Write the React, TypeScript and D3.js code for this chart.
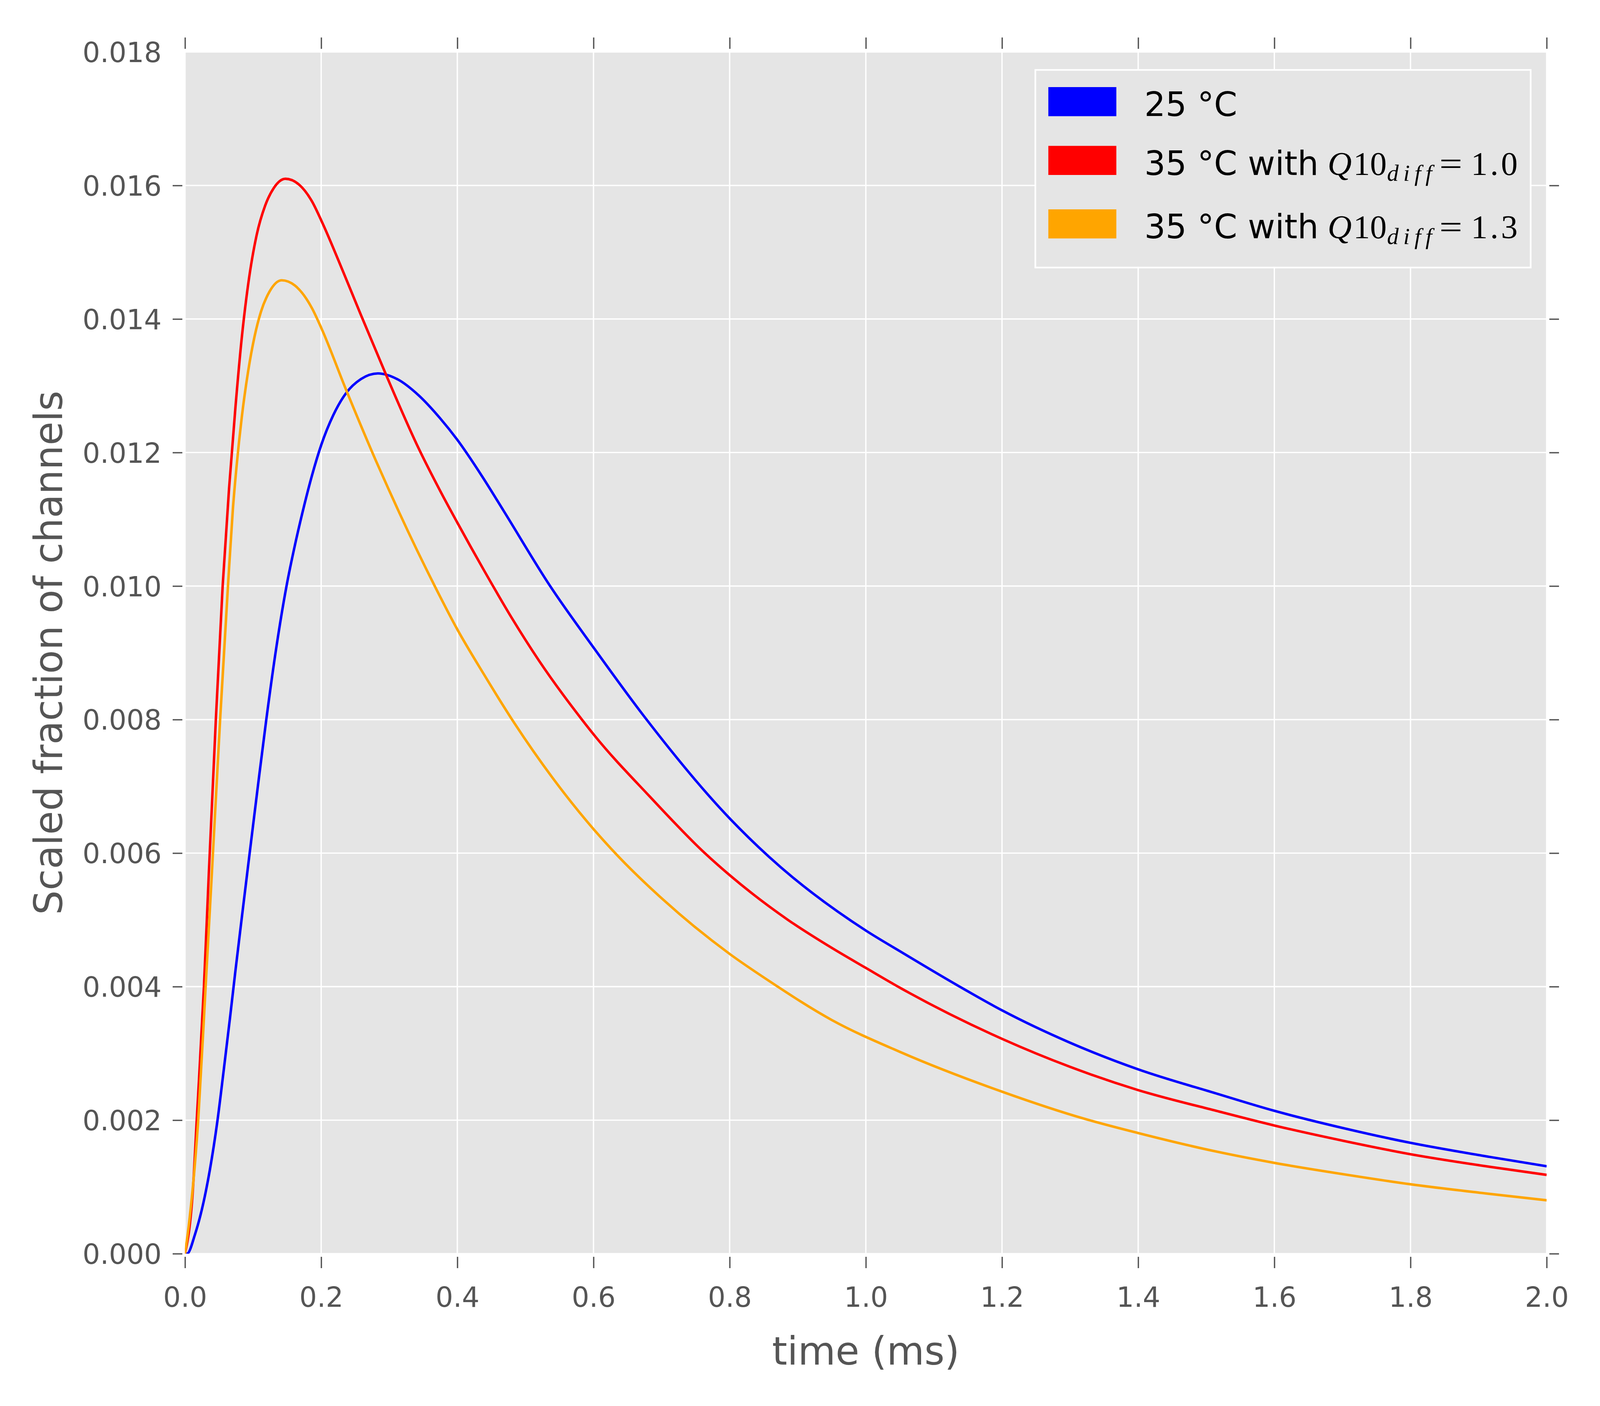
import { useEffect, useRef } from 'react';
import * as d3 from 'd3';

// axis ticks
const xTicks = [0, 0.2, 0.4, 0.6, 0.8, 1.0, 1.2, 1.4, 1.6, 1.8, 2.0];
const yTicks = [0, 0.002, 0.004, 0.006, 0.008, 0.01, 0.012, 0.014, 0.016, 0.018];

// 25 °C
const time25 = [0, 0.003, 0.0147, 0.0272, 0.0366, 0.0475, 0.0569, 0.0663, 0.0741, 0.0834, 0.0928, 0.1069, 0.1194, 0.1334, 0.1491, 0.1616, 0.1725, 0.1866, 0.2, 0.2178, 0.2366, 0.2584, 0.2834, 0.3116, 0.3428, 0.3741, 0.4, 0.4366, 0.4678, 0.5363, 0.6, 0.6742, 0.8, 0.8572, 1.0, 1.0507, 1.1378, 1.2, 1.2995, 1.4, 1.5146, 1.6, 1.7016, 1.8, 1.904, 2.0];
const frac25 = [0, 0, 0.00029, 0.00077, 0.00126, 0.00198, 0.00275, 0.00355, 0.00424, 0.00503, 0.00582, 0.00699, 0.008, 0.00903, 0.01, 0.01062, 0.0111, 0.01166, 0.01211, 0.01256, 0.01289, 0.0131, 0.013185, 0.0131, 0.01286, 0.01252, 0.01219, 0.01164, 0.01113, 0.01, 0.00908, 0.00805, 0.00652, 0.00595, 0.00484, 0.004526, 0.004, 0.003645, 0.003162, 0.002761, 0.0024, 0.00214, 0.00188, 0.00166, 0.00147, 0.00131];

// 35 °C, Q10diff = 1.0
const time35a = [0, 0.0116, 0.0172, 0.0278, 0.035, 0.0453, 0.0553, 0.0647, 0.0741, 0.0834, 0.0928, 0.1053, 0.1178, 0.1303, 0.1475, 0.1678, 0.1866, 0.2, 0.2334, 0.2584, 0.2959, 0.3428, 0.3756, 0.4, 0.4389, 0.4795, 0.5201, 0.583, 0.6, 0.6824, 0.7635, 0.8, 0.8856, 0.95, 1.0, 1.0507, 1.2, 1.2995, 1.4, 1.5146, 1.6, 1.7016, 1.8, 1.904, 2.0];
const frac35a = [0, 0.00096, 0.002, 0.004, 0.0057, 0.008, 0.01, 0.01146, 0.01268, 0.01372, 0.01452, 0.01526, 0.0157, 0.01596, 0.0161, 0.01601, 0.01576, 0.01548, 0.01468, 0.01406, 0.01315, 0.01207, 0.01141, 0.01095, 0.01024, 0.00953, 0.00888, 0.008, 0.00778, 0.00685, 0.006, 0.00567, 0.005, 0.00458, 0.00428, 0.00398, 0.003218, 0.0028, 0.00245, 0.00214, 0.00192, 0.00169, 0.00149, 0.00132, 0.00118];

// 35 °C, Q10diff = 1.3
const time35b = [0, 0.0053, 0.0194, 0.0303, 0.0391, 0.0516, 0.0631, 0.0703, 0.0756, 0.0834, 0.0928, 0.1022, 0.1116, 0.1241, 0.142, 0.1616, 0.1866, 0.2, 0.2366, 0.2803, 0.2991, 0.3147, 0.3678, 0.4, 0.4389, 0.4836, 0.5404, 0.6, 0.6337, 0.7026, 0.8, 0.8572, 0.95, 1.0507, 1.2, 1.3213, 1.4, 1.5146, 1.6, 1.7016, 1.8, 1.904, 2.0];
const frac35b = [0, 0.0004, 0.002, 0.004, 0.00563, 0.008, 0.01, 0.01115, 0.01178, 0.01253, 0.01322, 0.01374, 0.01411, 0.01441, 0.01458, 0.0145, 0.01416, 0.01387, 0.01294, 0.01188, 0.01145, 0.0111, 0.00998, 0.00935, 0.00868, 0.00795, 0.00712, 0.00636, 0.00598, 0.0053, 0.00449, 0.00409, 0.0035, 0.00302, 0.002427, 0.00202, 0.001807, 0.00153, 0.00136, 0.00119, 0.00104, 0.00091, 0.0008];

const legendTemps = ['25', '35', '35'];
const legendQ10 = [null, '1.0', '1.3'];
const seriesColors = ['#0000ff', '#ff0000', '#ffa500'];

export default function App() {
  const svgRef = useRef<SVGSVGElement>(null);

  useEffect(() => {
    if (!svgRef.current) return;

    // layout is worked out on a 4800x3600 canvas and stretched onto the viewport
    const W = window.innerWidth || 4800;
    const H = window.innerHeight || 3600;
    const sx = W / 4800;
    const sy = H / 3600;
    const X = (u: number) => u * sx;
    const Y = (u: number) => u * sy;
    const S = (u: number) => u * sx;

    const margin = { top: 133, right: 160, bottom: 390, left: 555 };
    const plotL = X(margin.left);
    const plotR = X(4800 - margin.right);
    const plotT = Y(margin.top);
    const plotB = Y(3600 - margin.bottom);
    const tickColor = '#555555';
    const font = '"DejaVu Sans", sans-serif';

    const svg = d3.select(svgRef.current)
      .attr('width', W)
      .attr('height', H);
    svg.selectAll('*').remove();

    svg.append('rect')
      .attr('width', W)
      .attr('height', H)
      .attr('fill', '#ffffff');

    const x = d3.scaleLinear().domain([0, 2]).range([plotL, plotR]);
    const y = d3.scaleLinear().domain([0, 0.018]).range([plotB, plotT]);

    svg.append('rect')
      .attr('x', plotL)
      .attr('y', plotT)
      .attr('width', plotR - plotL)
      .attr('height', plotB - plotT)
      .attr('fill', '#e5e5e5');

    // grid
    const grid = svg.append('g');
    grid.selectAll('.vg')
      .data(xTicks)
      .join('line')
      .attr('x1', d => x(d))
      .attr('x2', d => x(d))
      .attr('y1', plotT)
      .attr('y2', plotB)
      .attr('stroke', '#ffffff')
      .attr('stroke-width', S(4));
    grid.selectAll('.hg')
      .data(yTicks)
      .join('line')
      .attr('x1', plotL)
      .attr('x2', plotR)
      .attr('y1', d => y(d))
      .attr('y2', d => y(d))
      .attr('stroke', '#ffffff')
      .attr('stroke-width', S(4));

    svg.append('clipPath')
      .attr('id', 'plot-clip')
      .append('rect')
      .attr('x', plotL)
      .attr('y', plotT)
      .attr('width', plotR - plotL)
      .attr('height', plotB - plotT);

    const series = [
      time25.map((t, i) => [t, frac25[i]] as [number, number]),
      time35a.map((t, i) => [t, frac35a[i]] as [number, number]),
      time35b.map((t, i) => [t, frac35b[i]] as [number, number]),
    ];

    const line = d3.line<[number, number]>()
      .x(d => x(d[0]))
      .y(d => y(d[1]))
      .curve(d3.curveMonotoneX);

    svg.append('g')
      .attr('clip-path', 'url(#plot-clip)')
      .selectAll('path')
      .data(series)
      .join('path')
      .attr('d', d => line(d))
      .attr('fill', 'none')
      .attr('stroke', (_, i) => seriesColors[i])
      .attr('stroke-width', S(7.5))
      .attr('stroke-linejoin', 'round');

    // axes (ticks sit just outside the white frame)
    const styleAxis = (g: d3.Selection<SVGGElement, unknown, null, undefined>) => {
      g.select('.domain').remove();
      g.selectAll('.tick line').attr('stroke', tickColor).attr('stroke-width', S(4));
      g.selectAll('.tick text')
        .attr('fill', tickColor)
        .style('font-family', font)
        .style('font-size', `${S(83)}px`);
    };

    const left = svg.append('g')
      .attr('transform', `translate(${plotL - X(8)},0)`)
      .call(d3.axisLeft(y).tickValues(yTicks).tickSize(X(29)).tickPadding(X(33)).tickFormat(d3.format('.3f')));
    styleAxis(left);
    left.selectAll('.tick text').attr('dy', '0.36em');
    left.selectAll<SVGGElement, number>('.tick').filter(d => d === 0.018).select('line').remove();

    const right = svg.append('g')
      .attr('transform', `translate(${plotR + X(8)},0)`)
      .call(d3.axisRight(y).tickValues(yTicks).tickSize(X(29)).tickFormat(() => ''));
    styleAxis(right);
    right.selectAll<SVGGElement, number>('.tick').filter(d => d === 0.018).remove();

    const bottom = svg.append('g')
      .attr('transform', `translate(0,${plotB + Y(8)})`)
      .call(d3.axisBottom(x).tickValues(xTicks).tickSize(Y(29)).tickFormat(d3.format('.1f')));
    styleAxis(bottom);
    bottom.selectAll('.tick text')
      .attr('y', Y(3346) - (plotB + Y(8)))
      .attr('dy', 0);

    const top = svg.append('g')
      .attr('transform', `translate(0,${plotT - Y(8)})`)
      .call(d3.axisTop(x).tickValues(xTicks).tickSize(Y(29)).tickFormat(() => ''));
    styleAxis(top);

    // axis labels
    svg.append('text')
      .attr('x', (plotL + plotR) / 2)
      .attr('y', Y(3494))
      .attr('text-anchor', 'middle')
      .attr('fill', tickColor)
      .style('font-family', font)
      .style('font-size', `${S(116)}px`)
      .text('time (ms)');

    svg.append('text')
      .attr('transform', `translate(${X(186)},${(plotT + plotB) / 2}) rotate(-90)`)
      .attr('text-anchor', 'middle')
      .attr('fill', tickColor)
      .style('font-family', font)
      .style('font-size', `${S(116)}px`)
      .text('Scaled fraction of channels');

    // legend
    const legend = svg.append('g');
    legend.append('rect')
      .attr('x', X(3106))
      .attr('y', Y(179))
      .attr('width', X(1486))
      .attr('height', Y(506))
      .attr('fill', '#e5e5e5')
      .attr('stroke', '#ffffff')
      .attr('stroke-width', S(5));

    const rowBase = [297, 447.5, 610];
    const mathFont = '"Liberation Serif", serif';

    legendTemps.forEach((temp, i) => {
      legend.append('rect')
        .attr('x', X(3145))
        .attr('y', Y(rowBase[i] - 74))
        .attr('width', X(204))
        .attr('height', Y(74.5))
        .attr('fill', seriesColors[i]);

      const txt = legend.append('text')
        .attr('x', X(3433))
        .attr('y', Y(rowBase[i]))
        .attr('fill', '#000000')
        .style('font-family', font)
        .style('font-size', `${S(100)}px`);

      const q = legendQ10[i];
      if (q === null) {
        txt.text(`${temp} °C`);
        return;
      }
      txt.append('tspan').text(`${temp} °C with `);
      txt.append('tspan')
        .attr('x', X(3983))
        .style('font-family', mathFont)
        .style('font-style', 'italic')
        .text('Q');
      txt.append('tspan')
        .attr('x', X(4060))
        .style('font-family', mathFont)
        .text('10');
      txt.append('tspan')
        .attr('x', X(4161))
        .attr('dy', Y(15))
        .attr('textLength', X(135))
        .attr('lengthAdjust', 'spacing')
        .style('font-family', mathFont)
        .style('font-style', 'italic')
        .style('font-size', `${S(70)}px`)
        .text('diff');
      txt.append('tspan')
        .attr('x', X(4318))
        .attr('dy', -Y(15))
        .attr('textLength', X(69))
        .attr('lengthAdjust', 'spacingAndGlyphs')
        .style('font-family', mathFont)
        .text('=');
      txt.append('tspan')
        .attr('x', X(4413))
        .attr('textLength', X(140))
        .attr('lengthAdjust', 'spacing')
        .style('font-family', mathFont)
        .text(q);
    });
  }, []);

  return (
    <svg
      ref={svgRef}
      style={{ position: 'fixed', left: 0, top: 0, display: 'block' }}
    />
  );
}
